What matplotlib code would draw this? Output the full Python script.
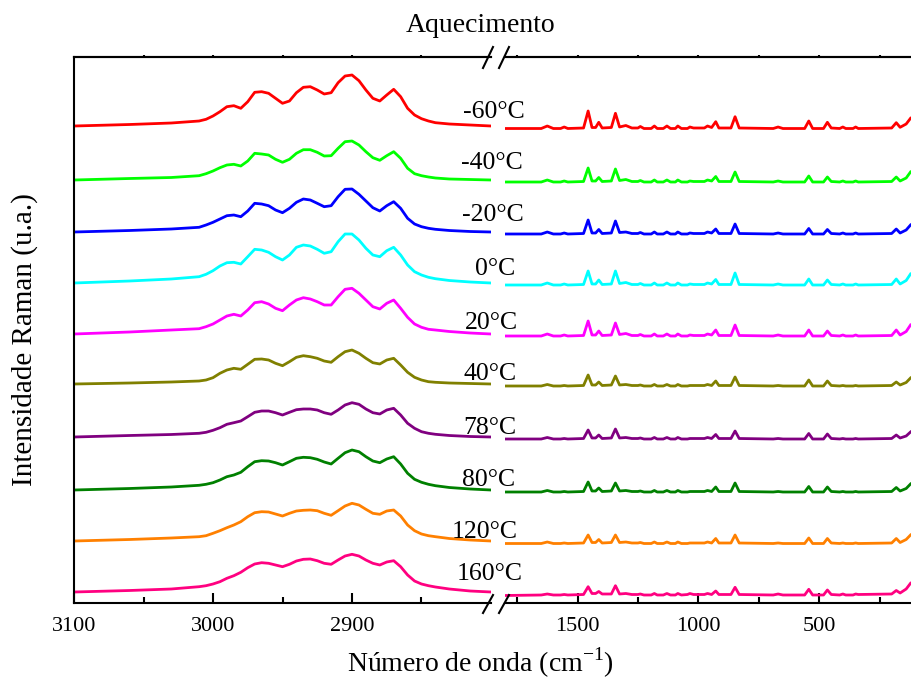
import matplotlib
matplotlib.use("Agg")
import matplotlib.pyplot as plt
from matplotlib.lines import Line2D
import numpy as np

plt.rcParams['font.family'] = ['Liberation Serif', 'DejaVu Serif']
plt.rcParams['mathtext.fontset'] = 'custom'
plt.rcParams['mathtext.rm'] = 'Liberation Serif'

# temperatures, colours and vertical offsets of the stacked spectra
temps = ['-60°C', '-40°C', '-20°C', '0°C', '20°C', '40°C', '78°C', '80°C', '120°C', '160°C']
colors = ['#ff0000', '#00ff00', '#0000ff', '#00ffff', '#ff00ff',
          '#808000', '#800080', '#008000', '#ff8000', '#ff0080']
offsets = [466, 412, 360, 309, 258, 208, 155, 102, 51, 0]

# C-H stretching region (3100-2800 cm-1)
wn_ch = [3100, 3060, 3030, 3010, 3005, 3000, 2995, 2990, 2985, 2980, 2975, 2970, 2965,
         2960, 2955, 2950, 2945, 2940, 2935, 2930, 2925, 2920, 2915, 2910, 2905, 2900,
         2895, 2890, 2885, 2880, 2875, 2870, 2865, 2860, 2855, 2850, 2845, 2840, 2830,
         2815, 2800]

ch_m60 = [0, 1.5, 3, 5, 6.7, 10, 14.3, 19.3, 20.3, 17.7, 24.3, 33.7, 34.3, 32.7, 27.7, 22.7,
          25, 33.3, 38.7, 39.3, 36, 32, 33.3, 43.3, 50, 51, 45.3, 36, 27.7, 25, 31, 36.7,
          29.3, 17.7, 11, 7.3, 5, 3.3, 2, 1, 0]
ch_m40 = [0, 1.5, 2.5, 4.3, 6.3, 9, 12.3, 15, 15.7, 14, 19, 26.7, 26, 25, 20.7, 17.7,
          20.7, 26.7, 30.3, 30.3, 27.7, 24, 24.3, 31.7, 38.3, 39, 35, 28.3, 22.3, 19.7, 24.3,
          28.3, 21.7, 11.7, 6.3, 4.3, 3, 2, 1, 0.5, 0]
ch_m20 = [0, 1.5, 3, 4.7, 7, 9.7, 13, 16.3, 17, 15.3, 21, 28.7, 28, 26.3, 22, 19.3,
          23.7, 29.7, 33, 32, 28.7, 25.3, 26.3, 35.3, 42.7, 43, 37.7, 31, 24.3, 21, 26.3,
          30.3, 23.7, 13.7, 8, 5.3, 3.7, 2.7, 1.5, 0.5, 0]
ch_0 = [0, 2, 4, 6.3, 8.7, 12.3, 17, 20.3, 20.7, 19, 26.3, 33.7, 33, 30.7, 26.3, 23,
        28, 35.7, 38, 37, 33.7, 29.7, 31.3, 41.3, 49, 49, 43, 34.7, 28, 26.3, 32.3,
        35.7, 28, 18, 11.3, 8, 5.7, 4.3, 2.5, 1, 0]
ch_20 = [0, 2, 4, 5.3, 7.3, 10, 14, 18, 19.7, 18, 24, 31.3, 32.3, 30, 25.7, 23.3,
         29, 34, 36.3, 35, 32.3, 29, 29, 37.3, 44.7, 45.7, 40.7, 34, 27.3, 25, 30.7,
         34, 25.7, 16.7, 10, 6.7, 4.7, 4, 2.5, 1, 0]
ch_40 = [0, 1, 2, 3, 4, 6.3, 10.7, 14, 15.7, 14.7, 19.7, 24.7, 25, 24, 20.7, 18.3,
         22.3, 26.7, 28.3, 27.3, 25.7, 23, 21.7, 27.3, 32.3, 34, 30.7, 25.7, 21.3, 20, 24,
         25.7, 19, 11.7, 6.7, 4, 2.3, 1.7, 1, 0.5, 0]
ch_78 = [0, 1.5, 2.5, 3.7, 4.7, 6.7, 9.3, 12.7, 14.3, 16, 20.3, 24.7, 26, 26, 24.3, 22,
         24.7, 27.3, 28, 28, 27, 24.3, 22.7, 27, 32, 34.3, 32.7, 28, 24.3, 23, 27,
         28.7, 22, 13.7, 8.7, 5.3, 3.7, 2.7, 1.5, 0.5, 0]
ch_80 = [0, 1.5, 3, 4.7, 5.7, 7.3, 10, 13.3, 15, 17.7, 23.3, 28.3, 29.3, 29, 27.3, 25,
         28.3, 31.7, 32.7, 32.3, 30.7, 28, 26, 31.7, 37.3, 40, 38.3, 33.3, 29, 27.3, 31,
         33.3, 26, 16.7, 10.7, 7.7, 5.7, 4.3, 2.5, 1, 0]
ch_120 = [0, 1.5, 3, 4.3, 5.3, 7.7, 10.3, 13.3, 16, 19.3, 24.3, 28.3, 29.3, 29, 27, 25,
          27.7, 30, 30.7, 31, 30.3, 27.7, 25.7, 30.3, 35, 37.7, 36, 31.7, 27.7, 26.7, 30,
          31, 25, 16, 10.3, 7, 5.3, 4.3, 2.5, 1, 0]
ch_160 = [0, 1.5, 3, 5.3, 6.3, 8, 10.3, 13.7, 16.3, 19.7, 24.3, 28, 29.3, 28.7, 27, 25.3,
          27.7, 31, 32.7, 33, 31.3, 28.7, 27.7, 32, 36, 37.7, 36, 32, 28.7, 27, 30,
          31.3, 25.3, 17, 11, 8, 6.3, 5, 3, 1, 0]

# fingerprint region (1800-120 cm-1)
wn_fp = [1800, 1650, 1625, 1600, 1570, 1555, 1540, 1475, 1456, 1440, 1425, 1412, 1398,
         1360, 1343, 1326, 1300, 1275, 1250, 1240, 1225, 1195, 1182, 1170, 1145, 1130,
         1115, 1095, 1085, 1070, 1045, 1035, 1020, 975, 962, 945, 928, 915, 865, 848,
         831, 690, 670, 650, 560, 543, 527, 482, 466, 450, 415, 402, 390, 360, 349, 338,
         200, 181, 165, 140, 122]

fp_m60 = [-2.5, -2.5, 0, -2.5, -2.5, -1, -2.5, -2, 15, -1.5, -1.5, 3.7, -2, -1.5, 12.7, -1,
          0.5, -2, -2, -0.5, -2.5, -2.5, 0, -2.5, -2.5, 0, -2.5, -2.5, 0, -2.5, -2.5, -1,
          -2, -2, 0, -1.5, 4.3, -2, -2, 9.3, -2, -2.5, -1, -2.5, -2.5, 5, -2.5, -2.5, 3.7,
          -2, -2.5, -1, -2.5, -2.5, -1, -2.5, -2, 3.3, -1.3, 2, 7.7]
fp_m40 = [-2, -2, 0, -2, -2, -1, -2, -1.5, 12, -1, -1, 2.5, -1.5, -1, 11, -0.5,
          0.5, -1.5, -1.5, -0.5, -2, -2, 0, -2, -2, 0, -2, -2, 0, -2, -2, -1,
          -1.5, -1.5, 0, -1, 3.5, -1.5, -1.5, 8, -1.5, -2, -1, -2, -2, 4, -2, -2, 3,
          -1.5, -2, -1, -2, -2, -1, -2, -1.5, 3, -1, 2, 8]
fp_m20 = [-2, -2, 0, -2, -2, -1, -2, -1.5, 12, -1, -1, 2.5, -1.5, -1, 11, -0.5,
          0, -1.5, -1.5, -0.5, -2, -2, 0, -2, -2, 0, -2, -2, 0, -2, -2, -1,
          -1.5, -1.5, 0, -1, 3, -1.5, -1.5, 8, -1.5, -2, -1, -2, -2, 3.5, -2, -2, 2.5,
          -1.5, -2, -1, -2, -2, -1, -2, -1.5, 3, -1, 2, 7]
fp_0 = [-2, -2, 0, -2, -2, -1, -2, -1.5, 12, -1, -1, 3, -1.5, -1, 12, -0.5,
        0.5, -1.5, -1.5, -0.5, -2, -2, 0, -2, -2, 0, -2, -2, 0, -2, -2, -1,
        -1.5, -1.5, 0, -1, 3.5, -1.5, -1.5, 10, -1.5, -2, -1, -2, -2, 4, -2, -2, 3,
        -1.5, -2, -1, -2, -2, -1, -2, -1.5, 4, -1, 2.5, 9]
fp_20 = [-2, -2, 0, -2, -2, -1, -2, -1.5, 13, -1, -1, 3, -1.5, -1, 11, -0.5,
         0.5, -1.5, -1.5, -0.5, -2, -2, 0, -2, -2, 0, -2, -2, 0, -2, -2, -1,
         -1.5, -1.5, 0, -1, 4, -1.5, -1.5, 9, -1.5, -2, -1, -2, -2, 4, -2, -2, 3,
         -1.5, -2, -1, -2, -2, -1, -2, -1.5, 4, -1, 2.5, 9]
fp_40 = [-2, -2, -0.5, -2, -2, -1.5, -2, -1.5, 9, -1, -1, 2, -1.5, -1, 8, -1,
         -0.5, -1.5, -1.5, -1, -2, -2, -0.5, -2, -2, -0.5, -2, -2, -0.5, -2, -2, -1.5,
         -1.5, -1.5, -0.5, -1.5, 3, -1.5, -1.5, 7, -1.5, -2, -1.5, -2, -2, 4, -2, -2, 3,
         -1.5, -2, -1.5, -2, -2, -1.5, -2, -1.5, 2, -1, 1.5, 6]
fp_78 = [-2, -2, -0.5, -2, -2, -1.5, -2, -1.5, 7, -1, -1, 2, -1.5, -1, 8, -1,
         -0.5, -1.5, -1.5, -1, -2, -2, -0.5, -2, -2, -0.5, -2, -2, -0.5, -2, -2, -1.5,
         -1.5, -1.5, -0.5, -1.5, 2.5, -1.5, -1.5, 6, -1.5, -2, -1.5, -2, -2, 3.5, -2, -2, 3,
         -1.5, -2, -1.5, -2, -2, -1.5, -2, -1.5, 2, -1, 1, 5]
fp_80 = [-2, -2, -0.5, -2, -2, -1.5, -2, -1.5, 8, -1, -1, 2, -1.5, -1, 7, -1,
         -0.5, -1.5, -1.5, -1, -2, -2, -0.5, -2, -2, -0.5, -2, -2, -0.5, -2, -2, -1.5,
         -1.5, -1.5, -0.5, -1.5, 3, -1.5, -1.5, 7, -1.5, -2, -1.5, -2, -2, 3.5, -2, -2, 3,
         -1.5, -2, -1.5, -2, -2, -1.5, -2, -1.5, 2.5, -1, 1.5, 6]
fp_120 = [-2.5, -2.5, -1, -2.5, -2.5, -2, -2.5, -2, 6, -1.5, -1.5, 1.5, -2, -1.5, 6, -1.5,
          -1, -2, -2, -1.5, -2.5, -2.5, -1, -2.5, -2.5, -1, -2.5, -2.5, -1, -2.5, -2.5, -2,
          -2, -2, -1, -2, 2.5, -2, -2, 6, -2, -2.5, -2, -2.5, -2.5, 3, -2.5, -2.5, 2.5,
          -2, -2.5, -2, -2.5, -2.5, -2, -2.5, -2, 2.5, -1.5, 1.5, 6]
fp_160 = [-3.5, -3, -2, -3, -3, -2.5, -3, -2.5, 5.3, -1.5, -1.5, 0.5, -2, -2, 6.3, -2,
          -1.5, -2.5, -2.5, -2, -3, -3, -1.5, -3, -3, -1.5, -3, -3, -1.5, -3, -2.5, -1.5,
          -2.5, -2.5, -1.5, -2.5, 1, -2.5, -2.5, 4.7, -2.5, -3, -2, -3, -3, 2.7, -3, -3, 2,
          -2.5, -3, -2, -3, -3, -2, -2.5, -2, 1.5, -1, 3, 8.7]

ch_data = [ch_m60, ch_m40, ch_m20, ch_0, ch_20, ch_40, ch_78, ch_80, ch_120, ch_160]
fp_data = [fp_m60, fp_m40, fp_m20, fp_0, fp_20, fp_40, fp_78, fp_80, fp_120, fp_160]

# label positions (figure pixels, centre x / baseline y)
label_x = [494, 492, 493, 495, 491, 490, 490, 489, 485, 490]
label_y = [118, 169, 221, 275, 329, 380, 434, 486, 538, 580]

W, H = 911, 680
fig = plt.figure(figsize=(W / 100, H / 100), dpi=100)
ax1 = fig.add_axes([74 / W, 77 / H, (491 - 74) / W, 546 / H])
ax2 = fig.add_axes([505 / W, 77 / H, (911 - 505) / W, 546 / H])

for i in range(len(temps)):
    ax1.plot(wn_ch, np.array(ch_data[i]) + offsets[i], color=colors[i], lw=2,
             solid_joinstyle='round')
    ax2.plot(wn_fp, np.array(fp_data[i]) + offsets[i], color=colors[i], lw=2,
             solid_joinstyle='round')
    fig.text(label_x[i] / W, 1 - label_y[i] / H, temps[i], fontsize=18.5,
             ha='center', va='baseline')

ax1.set_xlim(3100, 2800)
ax2.set_xlim(1800, 120)
for ax in (ax1, ax2):
    ax.set_ylim(-11, 535)
    ax.set_yticks([])
    ax.spines['right'].set_visible(False)
    for s in ax.spines.values():
        s.set_linewidth(1.5)
    ax.tick_params(axis='x', which='major', direction='in', length=7.5, width=1.5,
                   labelsize=16, pad=10)
    ax.tick_params(axis='x', which='minor', direction='in', length=4, width=1.5)
ax2.spines['left'].set_visible(False)

ax1.set_xticks([3100, 3000, 2900])
ax1.set_xticks([3050, 2950, 2850], minor=True)
ax2.set_xticks([1500, 1000, 500])
ax2.set_xticks([1750, 1250, 750, 250], minor=True)

for ax, mj, mn in ((ax1, [3000, 2900], [3050, 2950, 2850]),
                   (ax2, [1500, 1000, 500], [1750, 1250, 750, 250])):
    top = ax.secondary_xaxis('top')
    top.set_xticks(mj + mn)
    top.set_xticklabels([])
    top.tick_params(direction='out', length=1.5, width=1.5)
    top.spines['top'].set_linewidth(1.5)

# break marks
for x0 in (483, 499):
    for y0, y1 in ((68, 47), (613, 595)):
        fig.add_artist(Line2D([x0 / W, (x0 + 10) / W], [1 - y0 / H, 1 - y1 / H],
                              transform=fig.transFigure, color='k', lw=1.5))

fig.text(481 / W, 1 - 25 / H, 'Aquecimento', fontsize=20, ha='center', va='center')
fig.text(480 / W, 1 - 663 / H, 'Número de onda (cm$^{-1}$)', fontsize=20,
         ha='center', va='center')
fig.text(25 / W, 1 - 340 / H, 'Intensidade Raman (u.a.)', fontsize=21,
         ha='center', va='center', rotation=90)

fig.savefig('out.png', dpi=100)
